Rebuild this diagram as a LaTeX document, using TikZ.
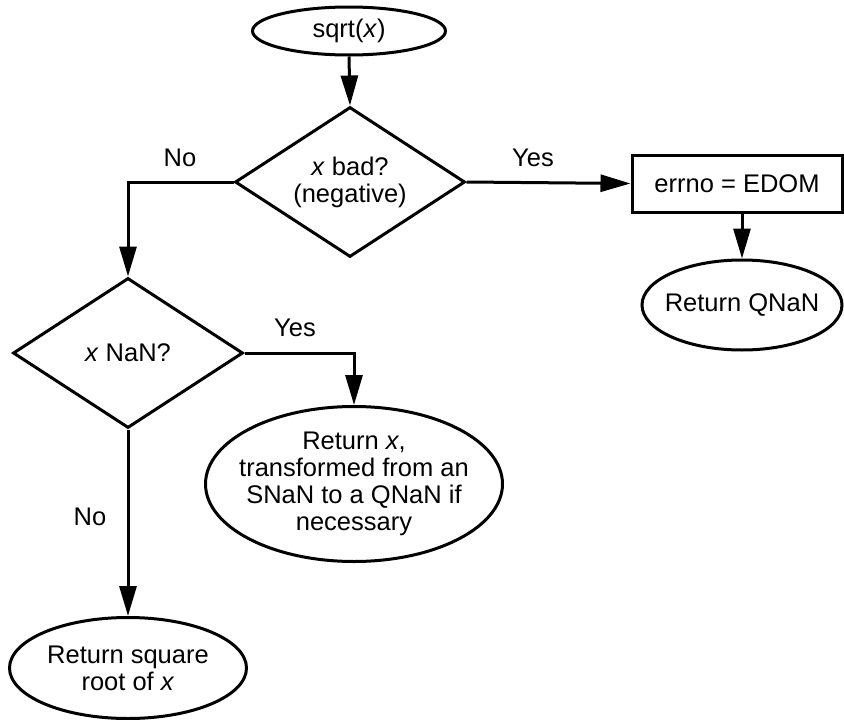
\documentclass[tikz,border=0pt]{standalone}
\usepackage{fontspec}
\setmainfont{Liberation Sans}
\usetikzlibrary{shapes.geometric,arrows.meta}
\begin{document}
\begin{tikzpicture}[x=1pt,y=-1pt,
  every node/.style={font=\fontsize{25.5}{27}\selectfont, align=center, inner sep=0pt},
  outlined/.style={draw, line width=3pt},
  oval/.style={outlined, ellipse, inner sep=-60pt},
  decision/.style={outlined, diamond, inner sep=-40pt, minimum width=230pt, minimum height=150pt},
  procbox/.style={outlined, rectangle},
  conn/.style={line width=3pt, -{Triangle[length=30pt,width=17pt]}},
  lbl/.style={font=\fontsize{25.5}{27}\selectfont}]
\useasboundingbox (0,0) rectangle (844,720);
\node[oval, minimum width=193pt, minimum height=48pt] (s) at (349,31) {sqrt(\textit{x})};
\node[decision] (d1) at (350,182) {\textit{x} bad?\\(negative)};
\node[procbox, minimum width=210pt, minimum height=57pt] (box) at (737,183.5) {errno = EDOM};
\node[oval, minimum width=200pt, minimum height=90pt] (q) at (742,305) {Return QNaN};
\node[decision] (d2) at (128,353) {\textit{x} NaN?};
\node[oval, minimum width=297pt, minimum height=155pt] (big) at (354,484) {Return \textit{x},\\transformed from an\\SNaN to a QNaN if\\necessary};
\node[oval, minimum width=237pt, minimum height=101pt] (bot) at (128,668) {Return square\\root of \textit{x}};
\draw[conn] (s.south) -- (d1.north);
\draw[conn] (d1.east) -- (box.west);
\draw[conn] (d1.west) -| (d2.north);
\draw[conn] (q.north |- box.south) -- (q.north);
\draw[conn] (d2.east) -| (big.north);
\draw[conn] (d2.south) -- (bot.north);
\node[lbl] (no1) at (180,158) {No};
\node[lbl] (yes1) at (533,158) {Yes};
\node[lbl] (yes2) at (295,328) {Yes};
\node[lbl] (no2) at (90,517) {No};
\end{tikzpicture}
\end{document}
